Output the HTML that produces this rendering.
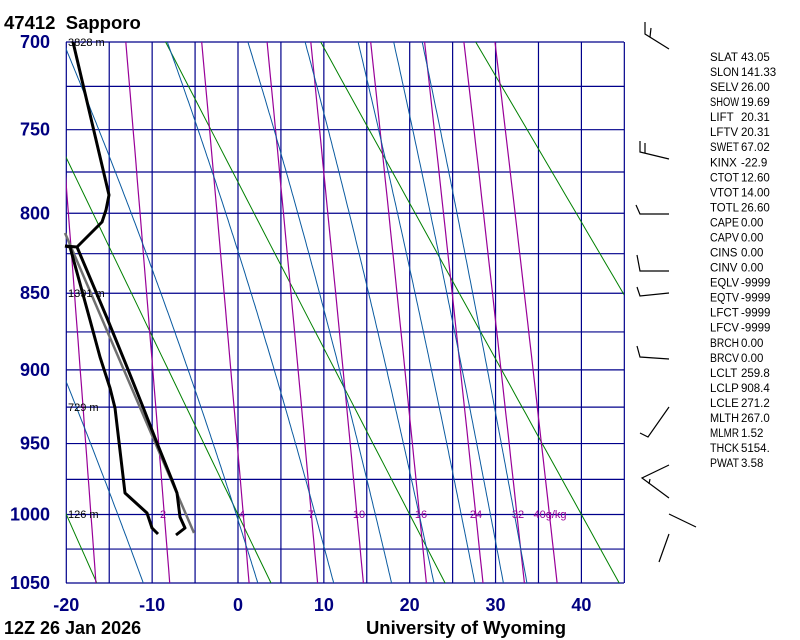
<!DOCTYPE html>
<html><head><meta charset="utf-8"><style>
html,body{margin:0;padding:0;background:#fff;}
svg{display:block;font-family:"Liberation Sans",sans-serif;}
</style></head><body>
<svg id="s" width="800" height="640" xmlns="http://www.w3.org/2000/svg">
<defs><clipPath id="cp"><rect x="66" y="42" width="558" height="541"/></clipPath></defs>
<g id="grid"></g>
<g id="lines" clip-path="url(#cp)"></g>
<g id="snd" fill="none" stroke-linejoin="round"></g>
<g id="txt"></g>
<g id="barbs" stroke="#000" stroke-width="1.2" fill="none">
<polyline points="645,22 645,34 669,49"/><line x1="650" y1="37" x2="651" y2="28"/>
<polyline points="640,141 640,152 669,159"/><line x1="645" y1="153" x2="645" y2="143"/>
<polyline points="636,205 640,214 669,214"/>
<polyline points="637,255 640,271 669,271"/>
<polyline points="637,287 640,296 669,293"/>
<polyline points="637,346 640,357 669,359"/>
<polyline points="640,433 648,437 669,407"/>
<polyline points="669,465 642,478 669,498"/><line x1="650" y1="479" x2="649" y2="484"/>
<line x1="669" y1="514" x2="696" y2="527"/>
<line x1="669" y1="534" x2="659" y2="562"/>
</g>
</svg>
<script>
var NS="http://www.w3.org/2000/svg";
var K=0.286,A=Math.pow(700,K),B=Math.pow(1050,K);
function Y(p){return 42+541*(Math.pow(p,K)-A)/(B-A);}
function X(t){return 238+8.585*t;}
function el(par,tag,at,txt){var e=document.createElementNS(NS,tag);for(var k in at)e.setAttribute(k,at[k]);if(txt!==undefined)e.textContent=txt;document.getElementById(par).appendChild(e);return e;}
function poly(par,pts,col,w){el(par,"polyline",{points:pts.map(function(q){return q[0].toFixed(1)+","+q[1].toFixed(1)}).join(" "),fill:"none",stroke:col,"stroke-width":w});}
var P=[700,725,750,775,800,825,850,875,900,925,950,975,1000,1025,1050];
P.forEach(function(p){var y=Y(p);el("grid","line",{x1:66,x2:624,y1:y,y2:y,stroke:"#00008b","stroke-width":1.2});});
for(var t=-20;t<=45;t+=5){var x=X(t);el("grid","line",{x1:x,x2:x,y1:42,y2:583,stroke:"#00008b","stroke-width":1.2});}
[-60,-40,-20,0,20,40,60,80,100].forEach(function(t0){var th=t0+273.15,pts=[];for(var p=690;p<=1060;p+=10){pts.push([X(th*Math.pow(p/1000,K)-273.15),Y(p)]);}poly("lines",pts,"#008000",1);});
function es(tc){return 6.112*Math.exp(17.67*tc/(tc+243.5));}
function td(e){var l=Math.log(e/6.112);return 243.5*l/(17.67-l);}
[1,2,4,7,10,16,24,32,40].forEach(function(w){var pts=[];for(var p=690;p<=1060;p+=10){var e=w*p/(622+w);pts.push([X(td(e)),Y(p)]);}poly("lines",pts,"#990099",1.2);});
function dTdp(T,p){var tc=T-273.15,e=es(tc),rs=0.622*e/(p-e),Rd=287,Lv=2.5e6,cp=1005;return (Rd*T+Lv*rs)/(cp+Lv*Lv*rs*0.622/(Rd*T*T))/p;}
[-14,-0.2,9,16,21.1,26,29.4,32.2].forEach(function(t0){var up=[],T=t0+273.15,p;for(p=1000;p>=690;p-=2){up.push([X(T-273.15),Y(p)]);T-=dTdp(T,p)*2;}T=t0+273.15;var dn=[];for(p=1000;p<=1060;p+=2){dn.push([X(T-273.15),Y(p)]);T+=dTdp(T,p)*2;}poly("lines",up.reverse().concat(dn),"#0a5aa0",1);});
poly("snd",[[194,533],[65,233]],"#707070",2.5);
poly("snd",[[176,535],[185,528],[180,517],[177,493],[172,480],[157,443],[143,407],[127,367],[107,318],[77,247],[65,246]],"#000",3);
poly("snd",[[77,247],[102,222],[106,210],[109,195],[73,42]],"#000",3);
poly("snd",[[158,534],[152,528],[147,513],[125,493],[115,408],[110,388],[100,357],[90,320],[70,247],[65,246]],"#000",3);
function tx(x,y,s,size,col,wt,anc){var e=el("txt","text",{x:x,y:y,"font-size":size,fill:col,"font-weight":wt||"normal","text-anchor":anc||"start"},s);e.setAttribute("style","white-space:pre");return e;}
tx(4,29,"47412  Sapporo",18.5,"#000","bold");
P.forEach(function(p){if(p%50==0)tx(50,Y(p)+6,String(p),18,"#000080","bold","end");});
[-20,-10,0,10,20,30,40].forEach(function(t){tx(X(t),611,String(t),18,"#000080","bold","middle");});
tx(4,634,"12Z 26 Jan 2026",18,"#000","bold");
tx(466,634,"University of Wyoming",18.5,"#000","bold","middle");
[[42,"3828 m"],[293,"1391 m"],[407,"729 m"],[514,"126 m"]].forEach(function(a){tx(68,a[0]+4,a[1],11,"#000");});
[[163,"2"],[242,"4"],[311,"7"],[359,"10"],[421,"16"],[476,"24"],[518,"32"],[550,"40g/kg"]].forEach(function(a){tx(a[0],518,a[1],11,"#990099","normal","middle");});
var rows=[["SLAT","43.05"],["SLON","141.33"],["SELV","26.00"],["SHOW","19.69"],["LIFT","20.31"],["LFTV","20.31"],["SWET","67.02"],["KINX","-22.9"],["CTOT","12.60"],["VTOT","14.00"],["TOTL","26.60"],["CAPE","0.00"],["CAPV","0.00"],["CINS","0.00"],["CINV","0.00"],["EQLV","-9999"],["EQTV","-9999"],["LFCT","-9999"],["LFCV","-9999"],["BRCH","0.00"],["BRCV","0.00"],["LCLT","259.8"],["LCLP","908.4"],["LCLE","271.2"],["MLTH","267.0"],["MLMR","1.52"],["THCK","5154."],["PWAT","3.58"]];
rows.forEach(function(r,i){var y=57+i*15.04+4;var l=tx(710,y,r[0],11.5,"#000");try{var w=l.getComputedTextLength();if(w>29){l.setAttribute("textLength","29");l.setAttribute("lengthAdjust","spacingAndGlyphs");}}catch(e){}var v=tx(741,y,r[1],11.5,"#000");try{var w2=v.getComputedTextLength();if(w2>50){v.setAttribute("textLength","50");v.setAttribute("lengthAdjust","spacingAndGlyphs");}}catch(e){}});
</script>
</body></html>
